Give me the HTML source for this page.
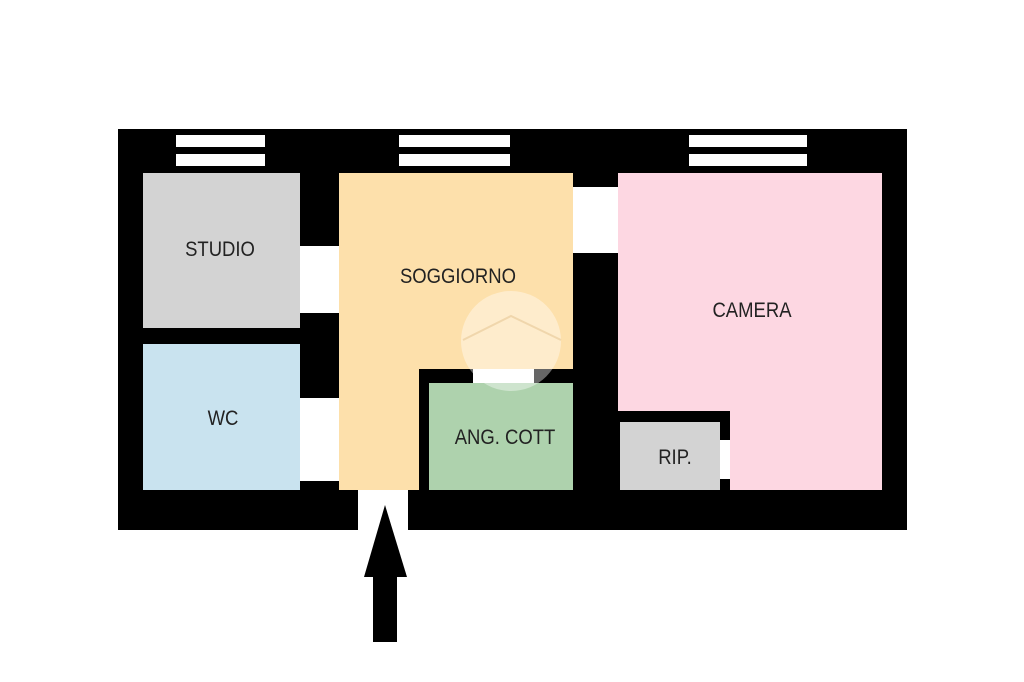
<!DOCTYPE html>
<html><head><style>
body{margin:0;background:#fff;width:1024px;height:682px;overflow:hidden;position:relative;font-family:"Liberation Sans",sans-serif}
div{position:absolute}
.t{font-size:21px;color:#222;transform:scaleX(0.88);white-space:nowrap;text-align:center}
</style></head><body>
<div style="left:118px;top:129px;width:789px;height:401px;background:#000"></div>
<div style="left:176px;top:135px;width:89px;height:12px;background:#fff"></div>
<div style="left:176px;top:154px;width:89px;height:12px;background:#fff"></div>
<div style="left:399px;top:135px;width:111px;height:12px;background:#fff"></div>
<div style="left:399px;top:154px;width:111px;height:12px;background:#fff"></div>
<div style="left:689px;top:135px;width:118px;height:12px;background:#fff"></div>
<div style="left:689px;top:154px;width:118px;height:12px;background:#fff"></div>
<div style="left:143px;top:173px;width:157px;height:155px;background:#d3d3d3"></div>
<div style="left:143px;top:344px;width:157px;height:146px;background:#c9e3ef"></div>
<div style="left:300px;top:246px;width:39px;height:67px;background:#fff"></div>
<div style="left:300px;top:398px;width:39px;height:83px;background:#fff"></div>
<div style="left:339px;top:173px;width:234px;height:196px;background:#fde0ab"></div>
<div style="left:339px;top:369px;width:80px;height:121px;background:#fde0ab"></div>
<div style="left:429px;top:383px;width:144px;height:107px;background:#aed2ad"></div>
<div style="left:473px;top:369px;width:61px;height:14px;background:#fff"></div>
<div style="left:573px;top:187px;width:45px;height:66px;background:#fff"></div>
<div style="left:618px;top:173px;width:264px;height:238px;background:#fdd7e2"></div>
<div style="left:730px;top:411px;width:152px;height:79px;background:#fdd7e2"></div>
<div style="left:620px;top:422px;width:100px;height:68px;background:#d3d3d3"></div>
<div style="left:720px;top:440px;width:10px;height:39px;background:#fff"></div>
<div style="left:358px;top:490px;width:50px;height:40px;background:#fff"></div>
<div style="left:461px;top:291px;width:100px;height:100px;border-radius:50%;background:rgba(255,255,255,0.4)"></div>
<svg style="position:absolute;left:0;top:0" width="1024" height="682">
<polyline points="463,340 511,316 561,340" fill="none" stroke="rgba(230,200,150,0.6)" stroke-width="2"/>
<polygon points="385,505 364,577 407,577" fill="#000"/>
<rect x="373" y="575" width="24" height="67" fill="#000"/>
</svg>
<div class="t" style="left:160px;top:238px;width:120px">STUDIO</div>
<div class="t" style="left:163px;top:407px;width:120px">WC</div>
<div class="t" style="left:388px;top:265px;width:140px">SOGGIORNO</div>
<div class="t" style="left:435px;top:426px;width:140px">ANG. COTT</div>
<div class="t" style="left:682px;top:299px;width:140px">CAMERA</div>
<div class="t" style="left:635px;top:446px;width:80px">RIP.</div>
</body></html>
